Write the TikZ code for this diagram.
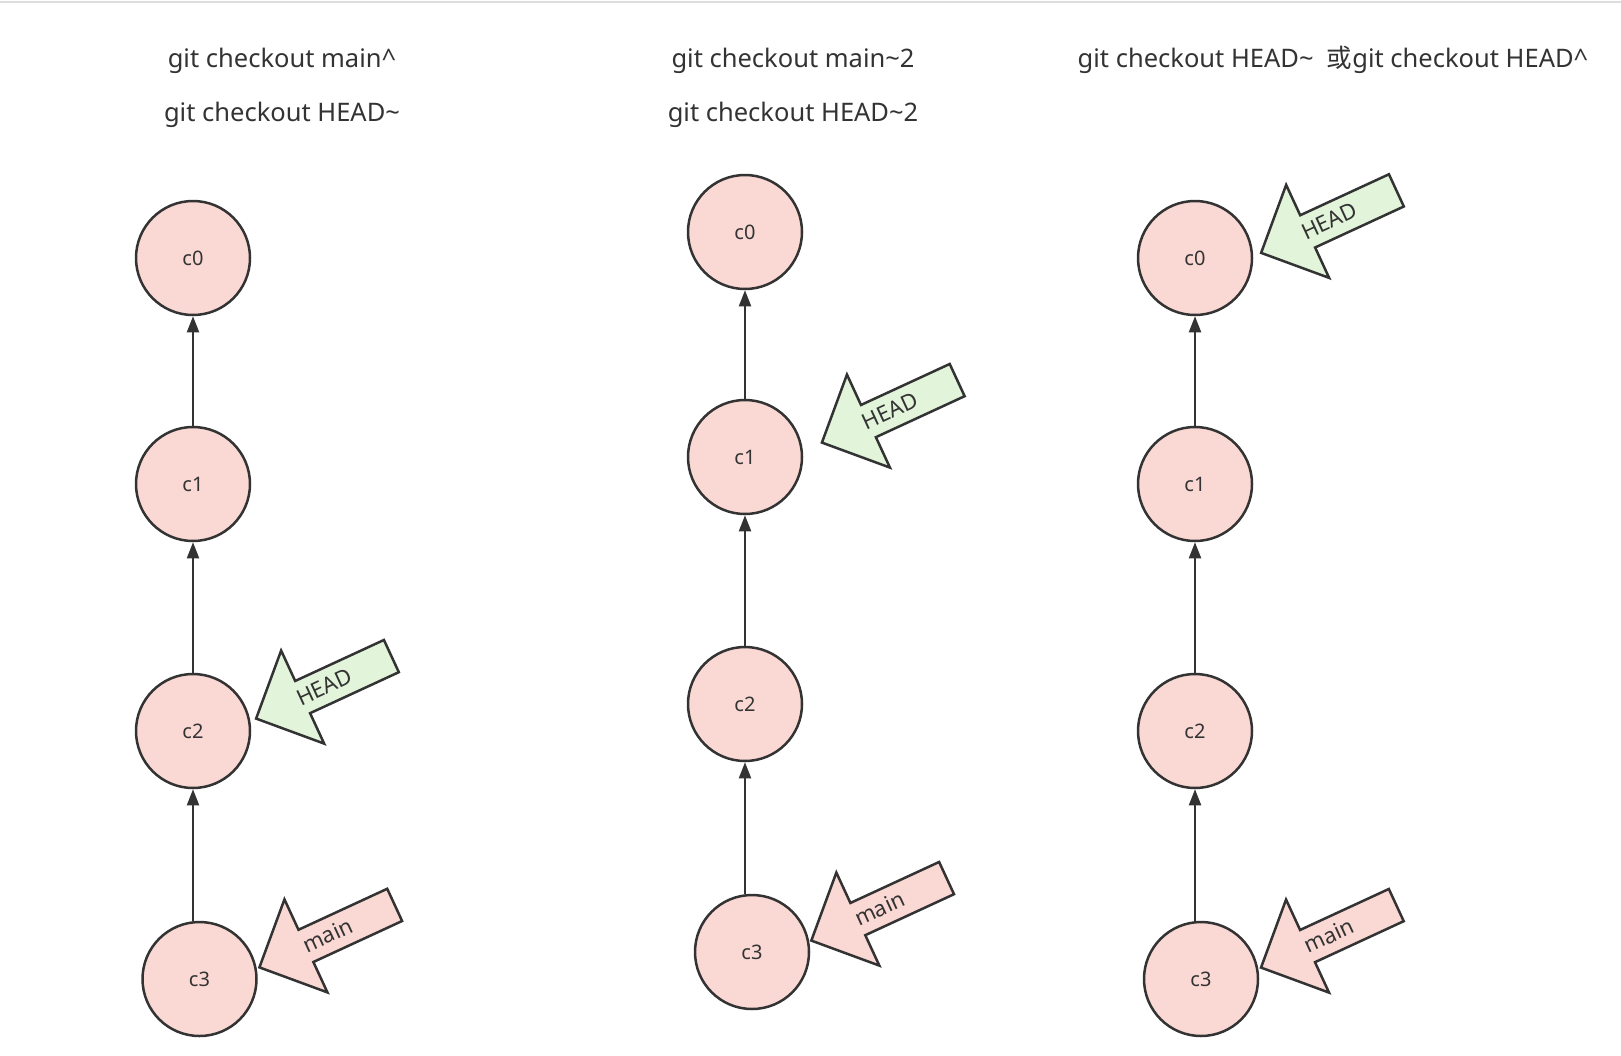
\documentclass[tikz,border=0pt]{standalone}
\usepackage{fontspec}
\setmainfont{Noto Sans}
\newfontfamily\cjk{Noto Sans CJK SC}
\usetikzlibrary{shapes.arrows,arrows.meta}

\definecolor{commitfill}{HTML}{FAD9D5}
\definecolor{headfill}{HTML}{E2F5DB}
\definecolor{inkgray}{HTML}{333333}
\definecolor{rulegray}{HTML}{DDDDDD}

\tikzset{
  commit/.style={circle, draw=inkgray, line width=2.5pt, fill=commitfill,
    minimum size=114pt, inner sep=0pt, text=inkgray, font=\fontsize{20}{24}\selectfont},
  parent/.style={draw=inkgray, line width=2pt, -{Triangle[length=16pt,width=12pt]}},
  pointer/.style={single arrow, shape border rotate=180, rotate=24.8,
    draw=inkgray, line width=2.5pt, minimum height=149pt,
    single arrow head extend=33.5pt, inner sep=0pt, text height=24pt, text depth=9pt,
    text=inkgray, font=\fontsize{22}{26}\selectfont},
  cmd/.style={anchor=base, text=inkgray, font=\fontsize{25.5}{30}\selectfont},
}
\newcommand{\ptrtext}[1]{#1\hspace*{16pt}}

\begin{document}
\begin{tikzpicture}[x=1pt, y=-1pt]
  \useasboundingbox (0,0) rectangle (1621,1055);
  \draw[line width=2pt, rulegray] (0,1.5) -- (1621,1.5);

  % main^ / HEAD~
  \node[cmd] (Acmd1) at (282,67) {git checkout main\^{}};
  \node[cmd] (Acmd2) at (282,121) {git checkout HEAD\textasciitilde};

  \node[commit] (A0) at (193,258) {c0};
  \node[commit] (A1) at (193,484) {c1};
  \node[commit] (A2) at (193,731) {c2};
  \node[commit] (A3) at (199.5,979) {c3};

  \draw[parent] (A1) -- (A0);
  \draw[parent] (A2) -- (A1);
  \draw[parent] (A3.north -| A2) -- (A2);

  \node[pointer, fill=headfill] (Ahead) at (331.8,683.6) {\ptrtext{HEAD}};
  \node[pointer, fill=commitfill] (Amain) at (335.1,932.4) {\ptrtext{main}};

  % main~2 / HEAD~2
  \node[cmd] (Bcmd1) at (793,67) {git checkout main\textasciitilde 2};
  \node[cmd] (Bcmd2) at (793,121) {git checkout HEAD\textasciitilde 2};

  \node[commit] (B0) at (745,232) {c0};
  \node[commit] (B1) at (745,457) {c1};
  \node[commit] (B2) at (745,704) {c2};
  \node[commit] (B3) at (752,952) {c3};

  \draw[parent] (B1) -- (B0);
  \draw[parent] (B2) -- (B1);
  \draw[parent] (B3.north -| B2) -- (B2);

  \node[pointer, fill=headfill] (Bhead) at (897.6,407.6) {\ptrtext{HEAD}};
  \node[pointer, fill=commitfill] (Bmain) at (887,905.6) {\ptrtext{main}};

  % HEAD~ or HEAD^
  \node[cmd] (Ccmd1) at (1333,67) {git checkout HEAD\textasciitilde\ \ {\cjk 或}git checkout HEAD\^{}};

  \node[commit] (C0) at (1195,258) {c0};
  \node[commit] (C1) at (1195,484) {c1};
  \node[commit] (C2) at (1195,731) {c2};
  \node[commit] (C3) at (1201,979) {c3};

  \draw[parent] (C1) -- (C0);
  \draw[parent] (C2) -- (C1);
  \draw[parent] (C3.north -| C2) -- (C2);

  \node[pointer, fill=headfill] (Chead) at (1336.8,217.9) {\ptrtext{HEAD}};
  \node[pointer, fill=commitfill] (Cmain) at (1336.7,932.6) {\ptrtext{main}};
\end{tikzpicture}
\end{document}
